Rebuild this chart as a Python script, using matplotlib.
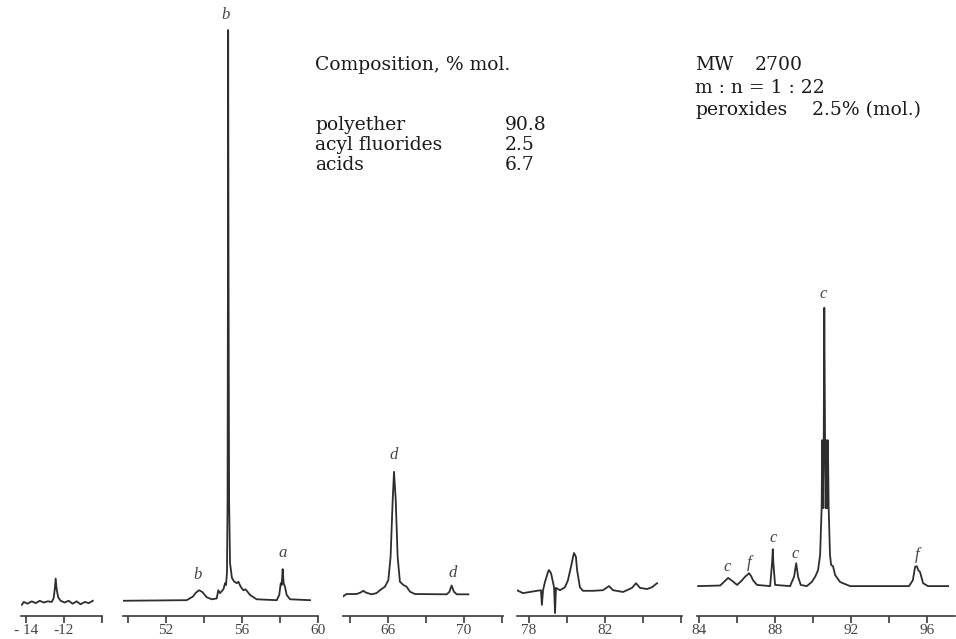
import matplotlib.pyplot as plt

# 19F NMR spectrum, split into five fragments
# chemical shift (ppm) and intensity (arbitrary units)

# fragment 1: -14 ... -10 ppm
ppm_1 = [-14.2, -14.1, -13.9, -13.68, -13.47, -13.26, -13.05, -12.84, -12.63, -12.53,
         -12.47, -12.42, -12.37, -12.29, -12.16, -11.95, -11.74, -11.53, -11.32, -11.11,
         -10.89, -10.68, -10.47]
int_1 = [1.9, 2.4, 2.1, 2.5, 2.2, 2.6, 2.3, 2.5, 2.4, 3.0,
         4.5, 6.4, 4.6, 3.2, 2.6, 2.3, 2.6, 2.1, 2.5, 2.0,
         2.4, 2.2, 2.6]

# fragment 2: 50 ... 60 ppm
ppm_2 = [49.72, 53.09, 53.41, 53.58, 53.74, 53.91, 54.14, 54.41, 54.67, 54.75,
         54.84, 55.02, 55.11, 55.16, 55.21, 55.24, 55.26, 55.27, 55.29, 55.32,
         55.37, 55.47, 55.58, 55.72, 55.81, 55.93, 56.07, 56.19, 56.42, 56.77,
         57.83, 57.96, 58.04, 58.09, 58.14, 58.19, 58.26, 58.35, 58.53, 59.58]
int_2 = [2.6, 2.7, 3.3, 4.0, 4.4, 4.1, 3.2, 2.85, 3.0, 4.4,
         3.9, 4.55, 5.6, 5.3, 7.5, 20.0, 60.0, 100.0, 60.0, 20.0,
         9.0, 6.5, 5.9, 5.6, 5.85, 5.0, 4.4, 4.55, 3.6, 2.85,
         2.7, 3.6, 5.6, 5.3, 8.0, 5.6, 5.0, 3.6, 2.85, 2.7]

# fragment 3: 64 ... 72 ppm
ppm_3 = [63.62, 63.82, 64.35, 64.56, 64.7, 64.84, 65.14, 65.4, 65.58, 65.84,
         66.02, 66.14, 66.25, 66.32, 66.41, 66.51, 66.63, 66.81, 66.98, 67.16,
         67.42, 69.09, 69.23, 69.35, 69.47, 69.62, 70.23]
int_3 = [3.3, 3.75, 3.75, 4.0, 4.3, 4.0, 3.7, 3.9, 4.4, 5.0,
         6.1, 10.1, 19.8, 24.6, 19.8, 10.1, 5.85, 5.3, 5.0, 4.15,
         3.75, 3.7, 4.1, 5.2, 4.15, 3.7, 3.7]

# fragment 4: 78 ... 86 ppm
ppm_4 = [77.37, 77.68, 78.05, 78.42, 78.63, 78.68, 78.74, 78.84, 79.0, 79.05,
         79.16, 79.26, 79.32, 79.37, 79.42, 79.63, 79.89, 80.05, 80.21, 80.32,
         80.37, 80.47, 80.53, 80.68, 80.84, 81.37, 81.89, 82.21, 82.42, 82.95,
         83.42, 83.63, 83.84, 84.21, 84.47, 84.74]
int_4 = [4.4, 3.9, 4.1, 4.3, 4.4, 1.9, 4.4, 5.8, 7.5, 7.85,
         7.3, 5.8, 4.9, 0.5, 4.8, 4.4, 4.9, 6.1, 8.4, 10.1,
         10.75, 10.1, 7.85, 4.9, 4.3, 4.3, 4.4, 5.1, 4.4, 4.1,
         4.8, 5.6, 4.8, 4.6, 4.9, 5.6]

# fragment 5: 84 ... 96 ppm
ppm_5 = [83.95, 85.11, 85.37, 85.53, 85.74, 86.0, 86.26, 86.42, 86.53, 86.63,
         86.74, 86.84, 87.05, 87.74, 87.84, 87.88, 87.91, 88.0, 88.79, 89.0,
         89.11, 89.21, 89.35, 89.67, 89.93, 90.11, 90.26, 90.37, 90.45, 90.48,
         90.52, 90.56, 90.59, 90.63, 90.66, 90.70, 90.74, 90.78, 90.82, 90.89,
         90.95, 91.05, 91.16, 91.42, 91.95, 95.05, 95.25, 95.37, 95.46, 95.54,
         95.63, 95.79, 96.05, 97.11]
int_5 = [5.1, 5.2, 6.0, 6.5, 6.0, 5.3, 6.1, 6.7, 7.0, 7.3,
         6.8, 6.1, 5.3, 5.1, 9.0, 11.4, 9.0, 5.3, 5.1, 6.7,
         9.0, 6.7, 5.3, 5.1, 5.8, 6.7, 7.8, 10.4, 18.4, 30.0,
         18.4, 30.0, 52.6, 30.0, 18.4, 30.0, 18.4, 30.0, 18.4, 10.4,
         8.7, 8.5, 7.0, 5.8, 5.1, 5.1, 6.1, 8.4, 8.5, 7.8,
         7.5, 5.6, 5.1, 5.1]

# axis ticks and labels
ticks_1 = [-14, -12, -10]
tlab_1 = ['- 14', '-12', '']
ticks_2 = [50, 52, 54, 56, 58, 60]
tlab_2 = ['', '52', '', '56', '', '60']
ticks_3 = [64, 66, 68, 70, 72]
tlab_3 = ['', '66', '', '70', '']
ticks_4 = [78, 80, 82, 84, 86]
tlab_4 = ['78', '', '82', '', '']
ticks_5 = [84, 86, 88, 90, 92, 94, 96]
tlab_5 = ['84', '', '88', '', '92', '', '96']

# peak assignments: (ppm, intensity, letter)
peaks_2 = [(53.68, 7.0, 'b'), (55.16, 102.6, 'b'), (58.16, 10.75, 'a')]
peaks_3 = [(66.32, 27.5, 'd'), (69.42, 7.3, 'd')]
peaks_5 = [(85.47, 8.4, 'c'), (86.63, 9.0, 'f'), (87.9, 13.3, 'c'),
           (89.05, 10.6, 'c'), (90.53, 55.0, 'c'), (95.47, 10.4, 'f')]

W, H = 956, 639
axis_y = 616          # pixel row of the ppm axes
ink = '#2e2e2e'

fig = plt.figure(figsize=(W / 100, H / 100), dpi=100)

panels = [
    (ppm_1, int_1, 20.7, 101.7, (-14.26, -10.0), ticks_1, tlab_1, []),
    (ppm_2, int_2, 122.7, 318.0, (49.72, 60.0), ticks_2, tlab_2, peaks_2),
    (ppm_3, int_3, 342.7, 503.3, (63.62, 72.07), ticks_3, tlab_3, peaks_3),
    (ppm_4, int_4, 517.0, 682.0, (77.37, 86.05), ticks_4, tlab_4, []),
    (ppm_5, int_5, 697.0, 955.0, (83.89, 97.47), ticks_5, tlab_5, peaks_5),
]

for x, y, px0, px1, xlim, ticks, tlab, peaks in panels:
    ax = fig.add_axes([px0 / W, (H - axis_y) / H, (px1 - px0) / W, axis_y / H])
    ax.plot(x, y, color=ink, linewidth=1.3, solid_joinstyle='round')
    ax.set_xlim(*xlim)
    ax.set_ylim(0, axis_y / 5.86)
    ax.set_xticks(ticks)
    ax.set_xticklabels(tlab, fontfamily='Liberation Serif', fontsize=11, color='#444')
    ax.set_yticks([])
    ax.patch.set_alpha(0)
    for s in ['top', 'left', 'right']:
        ax.spines[s].set_visible(False)
    ax.spines['bottom'].set_color('#3a3a3a')
    ax.spines['bottom'].set_linewidth(1.2)
    ax.tick_params(axis='x', direction='out', length=5, width=1.2, color='#3a3a3a', pad=1)
    for px, py, letter in peaks:
        ax.text(px, py, letter, ha='center', va='center', fontsize=12,
                fontfamily='Liberation Serif', fontstyle='italic', color='#444')

# composition notes
txt = dict(fontfamily='DejaVu Serif', fontsize=13.5, color='#1a1a1a', va='center')
fig.text(315 / W, 1 - 65 / H, 'Composition, % mol.', **txt)
rows = [('polyether', '90.8'), ('acyl fluorides', '2.5'), ('acids', '6.7')]
for i, (name, val) in enumerate(rows):
    yy = 1 - (125 + 20 * i) / H
    fig.text(315 / W, yy, name, **txt)
    fig.text(505 / W, yy, val, **txt)

fig.text(695 / W, 1 - 65 / H, 'MW', **txt)
fig.text(755 / W, 1 - 65 / H, '2700', **txt)
fig.text(695 / W, 1 - 88 / H, 'm : n = 1 : 22', **txt)
fig.text(695 / W, 1 - 110 / H, 'peroxides', **txt)
fig.text(812 / W, 1 - 110 / H, '2.5% (mol.)', **txt)

fig.savefig('out.png', dpi=100)
